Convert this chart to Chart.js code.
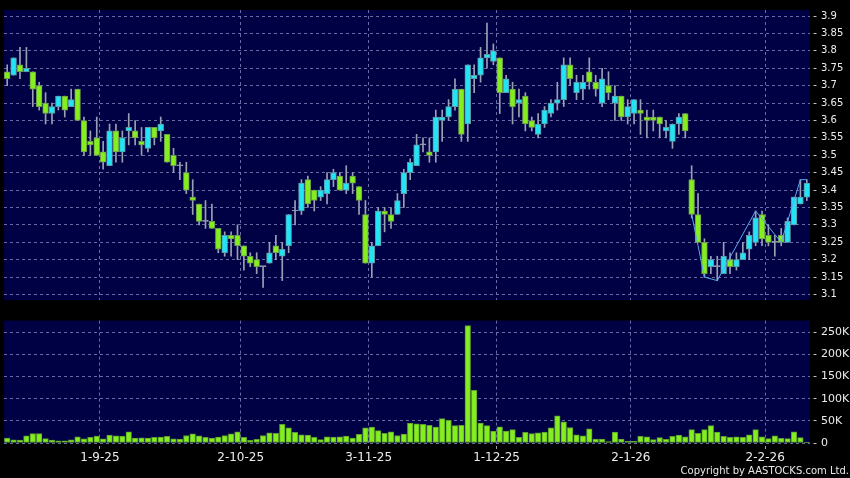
<!DOCTYPE html>
<html>
<head>
<meta charset="utf-8">
<script src="https://cdn.jsdelivr.net/npm/chart.js@4.4.1/dist/chart.umd.min.js"></script>
<style>
html, body { margin: 0; padding: 0; background: #000; }
#wrap { position: relative; width: 850px; height: 478px; overflow: hidden; background: #000; }
#priceChart { position: absolute; left: 0; top: 0; }
#volChart { position: absolute; left: 0; top: 310px; }
#copy { position: absolute; right: 1px; top: 465px; font: 10px "DejaVu Sans"; color: #e8e8e8; white-space: nowrap; }
</style>
</head>
<body>
<div id="wrap">
  <canvas id="priceChart" width="850" height="310"></canvas>
  <canvas id="volChart" width="850" height="168"></canvas>
  <div id="copy">Copyright by AASTOCKS.com Ltd.</div>
</div>
<script>
// daily candles, 12 Aug 2025 .. 10 Feb 2026 (index = trading day)
var open = [
  3.74, 3.73, 3.76, 3.74, 3.74, 3.70, 3.65, 3.62, 3.64, 3.67,
  3.64, 3.69, 3.60, 3.54, 3.55, 3.51, 3.47, 3.57, 3.51, 3.57,
  3.57, 3.54, 3.52, 3.58, 3.57, 3.56, 3.50, 3.47, 3.45, 3.38,
  3.36, 3.31, 3.31, 3.29, 3.22, 3.27, 3.27, 3.24, 3.21, 3.20,
  3.18, 3.19, 3.24, 3.21, 3.24, 3.34, 3.34, 3.43, 3.40, 3.38,
  3.39, 3.43, 3.44, 3.40, 3.44, 3.41, 3.33, 3.19, 3.24, 3.34,
  3.33, 3.33, 3.39, 3.45, 3.47, 3.53, 3.51, 3.51, 3.60, 3.61,
  3.64, 3.69, 3.59, 3.72, 3.73, 3.78, 3.77, 3.78, 3.68, 3.69,
  3.65, 3.67, 3.60, 3.56, 3.59, 3.62, 3.65, 3.66, 3.76, 3.68,
  3.69, 3.74, 3.71, 3.65, 3.70, 3.65, 3.67, 3.61, 3.62, 3.63,
  3.61, 3.61, 3.61, 3.57, 3.54, 3.59, 3.62, 3.43, 3.33, 3.25,
  3.18, 3.18, 3.16, 3.20, 3.18, 3.20, 3.23, 3.25, 3.33, 3.27,
  3.25, 3.27, 3.25, 3.30, 3.36, 3.38
];
var high = [
  3.76, 3.78, 3.81, 3.81, 3.74, 3.71, 3.68, 3.65, 3.67, 3.67,
  3.69, 3.69, 3.61, 3.57, 3.61, 3.54, 3.59, 3.59, 3.57, 3.62,
  3.60, 3.58, 3.58, 3.58, 3.61, 3.56, 3.52, 3.48, 3.48, 3.43,
  3.36, 3.37, 3.36, 3.29, 3.28, 3.28, 3.30, 3.24, 3.22, 3.22,
  3.18, 3.25, 3.27, 3.25, 3.33, 3.37, 3.43, 3.44, 3.40, 3.41,
  3.45, 3.46, 3.45, 3.47, 3.45, 3.41, 3.37, 3.25, 3.35, 3.35,
  3.35, 3.39, 3.46, 3.49, 3.56, 3.55, 3.55, 3.63, 3.63, 3.66,
  3.72, 3.69, 3.76, 3.76, 3.81, 3.88, 3.82, 3.78, 3.73, 3.71,
  3.69, 3.68, 3.61, 3.62, 3.64, 3.66, 3.71, 3.78, 3.78, 3.73,
  3.73, 3.78, 3.73, 3.75, 3.74, 3.70, 3.67, 3.66, 3.66, 3.66,
  3.63, 3.63, 3.61, 3.60, 3.59, 3.62, 3.62, 3.47, 3.39, 3.26,
  3.21, 3.21, 3.25, 3.22, 3.22, 3.25, 3.28, 3.34, 3.34, 3.30,
  3.27, 3.29, 3.32, 3.38, 3.43, 3.43
];
var low = [
  3.70, 3.73, 3.72, 3.74, 3.64, 3.63, 3.59, 3.59, 3.63, 3.61,
  3.64, 3.60, 3.50, 3.50, 3.50, 3.46, 3.47, 3.48, 3.48, 3.53,
  3.53, 3.50, 3.51, 3.53, 3.54, 3.48, 3.45, 3.43, 3.39, 3.33,
  3.30, 3.29, 3.29, 3.22, 3.21, 3.21, 3.20, 3.17, 3.18, 3.16,
  3.12, 3.19, 3.20, 3.14, 3.22, 3.30, 3.33, 3.35, 3.34, 3.37,
  3.36, 3.41, 3.40, 3.39, 3.39, 3.33, 3.19, 3.15, 3.24, 3.28,
  3.29, 3.33, 3.35, 3.43, 3.47, 3.51, 3.48, 3.48, 3.54, 3.60,
  3.63, 3.54, 3.54, 3.68, 3.71, 3.75, 3.76, 3.62, 3.68, 3.59,
  3.61, 3.57, 3.57, 3.55, 3.58, 3.61, 3.63, 3.64, 3.70, 3.66,
  3.66, 3.69, 3.67, 3.64, 3.66, 3.60, 3.60, 3.59, 3.59, 3.56,
  3.55, 3.57, 3.55, 3.55, 3.52, 3.56, 3.55, 3.32, 3.25, 3.15,
  3.16, 3.14, 3.16, 3.16, 3.17, 3.20, 3.20, 3.24, 3.24, 3.24,
  3.21, 3.24, 3.25, 3.30, 3.36, 3.37
];
var close = [
  3.72, 3.78, 3.74, 3.75, 3.69, 3.64, 3.62, 3.64, 3.67, 3.63,
  3.66, 3.60, 3.51, 3.53, 3.50, 3.48, 3.57, 3.51, 3.55, 3.58,
  3.55, 3.53, 3.58, 3.55, 3.59, 3.48, 3.47, 3.47, 3.40, 3.37,
  3.31, 3.31, 3.29, 3.23, 3.27, 3.26, 3.24, 3.21, 3.19, 3.18,
  3.18, 3.22, 3.22, 3.23, 3.33, 3.34, 3.42, 3.36, 3.37, 3.40,
  3.43, 3.45, 3.40, 3.42, 3.42, 3.37, 3.19, 3.24, 3.34, 3.33,
  3.31, 3.37, 3.45, 3.48, 3.53, 3.53, 3.50, 3.61, 3.61, 3.64,
  3.69, 3.56, 3.76, 3.73, 3.78, 3.79, 3.80, 3.68, 3.72, 3.64,
  3.66, 3.59, 3.58, 3.59, 3.63, 3.65, 3.66, 3.76, 3.72, 3.71,
  3.71, 3.71, 3.69, 3.72, 3.68, 3.67, 3.61, 3.64, 3.66, 3.62,
  3.60, 3.60, 3.59, 3.58, 3.59, 3.61, 3.57, 3.33, 3.25, 3.16,
  3.20, 3.18, 3.21, 3.18, 3.20, 3.22, 3.27, 3.32, 3.26, 3.25,
  3.25, 3.25, 3.31, 3.38, 3.38, 3.42
];
var volume = [
  11000, 7400, 6700, 16000, 21000, 21000, 10000, 6700, 5000, 5000,
  7400, 14000, 9600, 12600, 15500, 9600, 17800, 16300, 15500, 25000,
  11000, 11900, 11000, 12600, 13300, 14800, 9600, 8900, 17000, 20700,
  16300, 12600, 11000, 13300, 17000, 20700, 25000, 12600, 6000, 8200,
  17000, 23000, 22000, 42000, 34000, 24000, 18600, 18000, 12700, 7500,
  14000, 13400, 14000, 15700, 11000, 19400, 34000, 36000, 28000, 21600,
  25000, 17000, 20000, 45000, 43000, 42000, 40000, 36000, 55000, 51000,
  39000, 40000, 265000, 119000, 45000, 39000, 27000, 36500, 27000, 30000,
  12700, 24000, 21000, 23000, 24600, 34000, 61000, 48000, 35000, 18600,
  16400, 32000, 9000, 9000, 3000, 24600, 9000, 3700, 3700, 15000,
  14000, 7500, 12000, 8000, 15000, 18000, 14000, 30000, 21600, 30000,
  39000, 24600, 15000, 12700, 14000, 12700, 18600, 30000, 14000, 9700,
  16400, 10400, 9700, 25000, 12000, 1500
];
// thin line drawn over the last candles
var trendIdx = [107, 109, 111, 117, 121, 124, 125];
var trendVal = [3.33, 3.15, 3.14, 3.34, 3.25, 3.43, 3.43];

var tickIndex = [14, 36, 56, 76, 97, 118];
var tickLabels = ['1-9-25', '2-10-25', '3-11-25', '1-12-25', '2-1-26', '2-2-26'];
var priceTicks = [3.1, 3.15, 3.2, 3.25, 3.3, 3.35, 3.4, 3.45, 3.5, 3.55, 3.6, 3.65, 3.7, 3.75, 3.8, 3.85, 3.9];
var volumeTicks = [0, 50000, 100000, 150000, 200000, 250000];

var UP = '#22e4f4', UP_EDGE = '#5c98a6';
var DOWN = '#84ee1e', DOWN_EDGE = '#6c9a4e';
var WICK = '#9aa0b4';
var GRID = 'rgba(118,118,176,0.9)';
var TEXT = '#ececec';

var plotBg = {
  id: 'plotBg',
  beforeDraw: function (chart) {
    var a = chart.chartArea, ctx = chart.ctx;
    ctx.save();
    ctx.fillStyle = '#000044';
    ctx.fillRect(a.left, a.top, a.right - a.left, a.bottom - a.top);
    ctx.restore();
  }
};

var bodies = [], wicks = [], bodyFill = [], bodyEdge = [], vols = [], trend = [];
for (var i = 0; i < open.length; i++) {
  bodies.push({x: i, y: [Math.min(open[i], close[i]), Math.max(open[i], close[i])]});
  wicks.push({x: i, y: [low[i], high[i]]});
  if (close[i] > open[i]) { bodyFill.push(UP); bodyEdge.push(UP_EDGE); }
  else if (close[i] < open[i]) { bodyFill.push(DOWN); bodyEdge.push(DOWN_EDGE); }
  else { bodyFill.push(WICK); bodyEdge.push(WICK); }
  vols.push({x: i, y: volume[i]});
}
for (var j = 0; j < trendIdx.length; j++) trend.push({x: trendIdx[j], y: trendVal[j]});

function dateAxis(showLabels) {
  return {
    type: 'linear',
    min: -0.5,
    max: open.length - 0.5,
    offset: false,
    afterBuildTicks: function (scale) {
      scale.ticks = tickIndex.map(function (t) { return {value: t + 0.5}; });
    },
    afterFit: function (scale) { scale.height = showLabels ? 35 : 0; },
    ticks: {
      display: showLabels,
      autoSkip: false,
      maxRotation: 0,
      padding: 1,
      color: TEXT,
      font: {family: 'DejaVu Sans', size: 12},
      callback: function (v, idx) { return tickLabels[idx]; }
    },
    grid: {
      offset: false,
      color: GRID,
      drawTicks: showLabels,
      tickLength: 7,
      tickColor: '#a0a0a0',
      tickBorderDash: [0, 3, 3, 20]
    },
    border: {display: false, dash: [3, 3]}
  };
}

function valueAxis(opts) {
  return {
    position: 'right',
    min: opts.min,
    max: opts.max,
    afterBuildTicks: function (scale) {
      scale.ticks = opts.list.map(function (v) { return {value: v}; });
    },
    afterFit: function (scale) { scale.width = 40; },
    ticks: {
      padding: 4,
      color: TEXT,
      font: {family: 'DejaVu Sans', size: opts.size},
      callback: opts.fmt
    },
    grid: {
      color: GRID,
      tickLength: 7,
      tickColor: '#c0c0c0',
      tickBorderDash: [0, 3.5, 3, 20]
    },
    border: {display: false, dash: [3, 3]}
  };
}

new Chart(document.getElementById('priceChart'), {
  type: 'bar',
  data: {
    datasets: [
      {
        type: 'line', data: trend, borderColor: '#5aa8f0', borderWidth: 1,
        pointRadius: 0, order: 0
      },
      {
        data: bodies, backgroundColor: bodyFill, borderColor: bodyEdge,
        borderWidth: 1, borderSkipped: false, barThickness: 5.8,
        minBarLength: 1, grouped: false, order: 1
      },
      {
        data: wicks, backgroundColor: WICK, borderWidth: 0,
        barThickness: 1, grouped: false, order: 2
      }
    ]
  },
  options: {
    responsive: false,
    animation: false,
    events: [],
    layout: {padding: {left: 4, top: 6, right: 0, bottom: 4}},
    plugins: {legend: {display: false}, tooltip: {enabled: false}},
    scales: {
      x: dateAxis(false),
      y: valueAxis({
        min: 3.0842, max: 3.9175, list: priceTicks, size: 10,
        fmt: function (v) { return String(+v.toFixed(2)); }
      })
    }
  },
  plugins: [plotBg]
});

new Chart(document.getElementById('volChart'), {
  type: 'bar',
  data: {
    datasets: [{
      data: vols, backgroundColor: DOWN, borderColor: '#5c9a32',
      borderWidth: 1, borderSkipped: false, barThickness: 5.6, grouped: false
    }]
  },
  options: {
    responsive: false,
    animation: false,
    events: [],
    layout: {padding: {left: 4, top: 9, right: 0, bottom: 0}},
    plugins: {legend: {display: false}, tooltip: {enabled: false}},
    scales: {
      x: dateAxis(true),
      y: valueAxis({
        min: 0, max: 276000, list: volumeTicks, size: 11,
        fmt: function (v) { return v === 0 ? '0' : (v / 1000) + 'K'; }
      })
    }
  },
  plugins: [plotBg]
});
</script>
</body>
</html>
